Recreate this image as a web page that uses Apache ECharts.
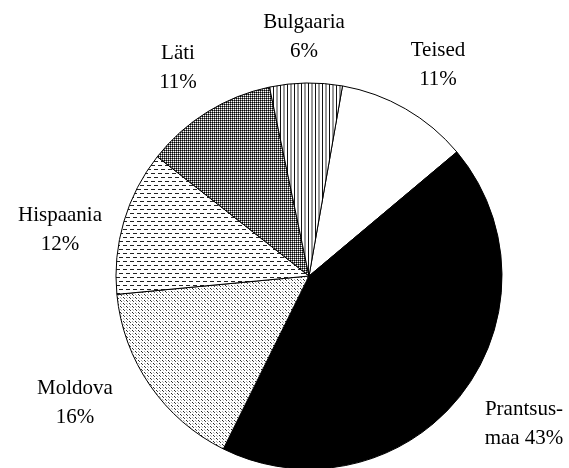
<!DOCTYPE html>
<html>
<head>
<meta charset="utf-8">
<script src="https://cdn.jsdelivr.net/npm/echarts@6/dist/echarts.min.js"></script>
<style>
  html, body { margin: 0; padding: 0; background: #fff; }
  #chart { width: 569px; height: 468px; }
</style>
</head>
<body>
<div id="chart"></div>
<script>
// data, clockwise from the top
const categories = ['Teised', 'Prantsusmaa', 'Moldova', 'Hispaania', 'Läti', 'Bulgaaria'];
const values = [11, 43, 16, 12, 11, 6];
const labelHeads = ['Teised\n', 'Prantsus-\nmaa ', 'Moldova\n', 'Hispaania\n', 'Läti\n', 'Bulgaaria\n'];

// where each label sits (centre of the text block)
const labelPos = [[438, 65], [524, 424], [75, 403], [60, 230], [178, 68], [304, 37]];

// small tile patterns, like the old b/w office charts
function tile(w, h, pixels) {
  const c = document.createElement('canvas');
  c.width = w; c.height = h;
  const ctx = c.getContext('2d');
  ctx.fillStyle = '#fff';
  ctx.fillRect(0, 0, w, h);
  pixels.forEach(function (p) {
    ctx.fillStyle = p[2];
    ctx.fillRect(p[0], p[1], p[3] || 1, p[4] || 1);
  });
  return { image: c, repeat: 'repeat' };
}

const fills = [
  '#fff',
  '#000',
  // moldova: fine speckle
  tile(6, 6, [[0, 0, '#222'], [1, 1, '#444'], [3, 0, '#aaa'], [4, 1, '#bbb'], [3, 3, '#222'], [4, 4, '#444'], [0, 3, '#aaa'], [1, 4, '#bbb']]),
  // hispaania: short horizontal dashes, rows offset
  tile(7, 8, [[0, 1, '#222', 4, 1], [4, 5, '#222', 3, 1], [0, 5, '#222', 1, 1]]),
  // läti: dense checker
  tile(2, 2, [[0, 0, '#000'], [1, 0, '#666'], [0, 1, '#666']]),
  // bulgaaria: vertical lines
  tile(7, 1, [[0, 0, '#111'], [3, 0, '#999', 2, 1]])
];

const chart = echarts.init(document.getElementById('chart'));
chart.setOption({
  animation: false,
  backgroundColor: '#fff',
  series: [{
    type: 'pie',
    center: [309, 276],
    radius: 193,
    startAngle: 80,
    clockwise: true,
    silent: true,
    data: categories.map(function (n, i) {
      return { name: n, value: values[i], itemStyle: { color: fills[i] } };
    }),
    itemStyle: {
      borderColor: '#000',
      borderWidth: 1
    },
    labelLine: { show: false },
    label: {
      show: true,
      position: 'outside',
      overflow: 'none',
      fontFamily: 'Liberation Serif',
      fontSize: 21,
      lineHeight: 29,
      color: '#000',
      formatter: function (p) {
        return labelHeads[p.dataIndex] + p.value + '%';
      }
    },
    labelLayout: function (params) {
      const p = labelPos[params.dataIndex];
      return { x: p[0], y: p[1], align: 'center', verticalAlign: 'middle' };
    }
  }]
});
</script>
</body>
</html>
